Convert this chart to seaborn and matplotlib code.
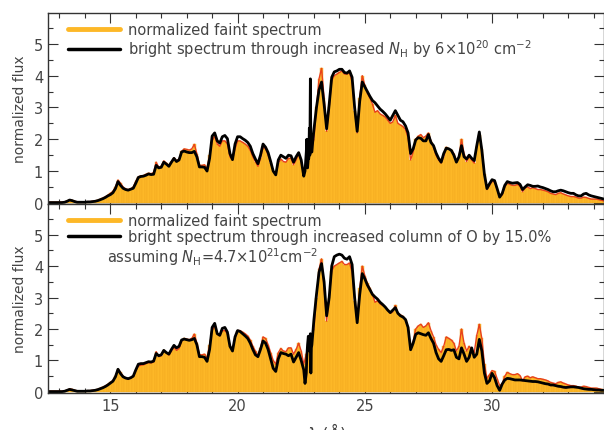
import numpy as np
import pandas as pd
import matplotlib
matplotlib.use("Agg")
import matplotlib.pyplot as plt
from matplotlib.lines import Line2D
from matplotlib.ticker import MultipleLocator
import seaborn as sns

# spectrum grid, 0.1 A bins from 12.6 to 34.4 A
wave = np.round(np.arange(12.6, 34.41, 0.1), 2)

faint = [
    0.02, 0.02, 0.02, 0.02,
    0.02, 0.02, 0.03, 0.06, 0.09, 0.08, 0.05, 0.03, 0.03, 0.03,
    0.03, 0.04, 0.04, 0.05, 0.06, 0.08, 0.11, 0.15, 0.19, 0.24,
    0.30, 0.36, 0.50, 0.72, 0.62, 0.50, 0.44, 0.42, 0.44, 0.50,
    0.68, 0.82, 0.85, 0.86, 0.90, 0.93, 0.92, 0.95, 1.28, 1.12,
    1.15, 1.32, 1.25, 1.17, 1.30, 1.42, 1.32, 1.38, 1.62, 1.70,
    1.68, 1.66, 1.70, 1.84, 1.55, 1.18, 1.18, 1.20, 1.08, 1.50,
    1.95, 2.10, 1.85, 1.78, 1.95, 1.95, 1.85, 1.45, 1.35, 1.70,
    1.95, 1.95, 1.90, 1.85, 1.78, 1.65, 1.45, 1.30, 1.15, 1.40,
    1.75, 1.70, 1.50, 1.25, 1.00, 0.88, 1.25, 1.38, 1.30, 1.28,
    1.40, 1.40, 1.20, 1.35, 1.55, 1.30, 0.88, 1.20, 1.60, 1.70,
    2.00, 3.00, 3.90, 4.23, 3.30, 2.25, 3.00, 3.85, 4.00, 4.05,
    4.10, 4.15, 4.05, 4.05, 4.10, 3.80, 2.90, 2.20, 3.30, 4.00,
    3.70, 3.45, 3.30, 3.10, 2.85, 2.90, 2.80, 2.75, 2.70, 2.60,
    2.50, 2.55, 2.75, 2.50, 2.45, 2.40, 2.30, 2.05, 1.35, 1.60,
    2.00, 2.10, 2.15, 2.05, 2.10, 2.20, 1.95, 1.75, 1.50, 1.35,
    1.25, 1.45, 1.75, 1.70, 1.65, 1.55, 1.30, 1.45, 2.00, 1.55,
    1.30, 1.45, 1.35, 1.25, 1.80, 2.15, 1.70, 0.90, 0.42, 0.55,
    0.68, 0.65, 0.42, 0.20, 0.25, 0.50, 0.62, 0.58, 0.55, 0.55,
    0.58, 0.52, 0.35, 0.48, 0.50, 0.45, 0.48, 0.45, 0.42, 0.42,
    0.40, 0.38, 0.35, 0.30, 0.28, 0.26, 0.30, 0.32, 0.28, 0.25,
    0.22, 0.20, 0.20, 0.18, 0.15, 0.15, 0.18, 0.17, 0.14, 0.12,
    0.12, 0.12, 0.10, 0.08, 0.06,
]

bright_nh = [
    0.01, 0.01, 0.01, 0.01,
    0.01, 0.01, 0.02, 0.05, 0.09, 0.07, 0.04, 0.02, 0.02, 0.02,
    0.02, 0.03, 0.03, 0.04, 0.05, 0.07, 0.10, 0.13, 0.17, 0.22,
    0.26, 0.32, 0.45, 0.67, 0.55, 0.46, 0.42, 0.40, 0.43, 0.46,
    0.62, 0.80, 0.83, 0.84, 0.87, 0.91, 0.89, 0.90, 1.18, 1.10,
    1.12, 1.28, 1.22, 1.15, 1.28, 1.40, 1.30, 1.35, 1.60, 1.63,
    1.60, 1.58, 1.58, 1.62, 1.45, 1.13, 1.13, 1.12, 1.00, 1.40,
    2.10, 2.20, 1.95, 1.88, 2.08, 2.12, 2.02, 1.55, 1.36, 1.85,
    2.08, 2.08, 2.02, 1.97, 1.90, 1.78, 1.55, 1.38, 1.23, 1.50,
    1.85, 1.75, 1.58, 1.30, 1.00, 0.88, 1.35, 1.50, 1.45, 1.40,
    1.50, 1.48, 1.28, 1.45, 1.58, 1.35, 0.84, 1.60, 1.40, 1.60,
    2.30, 3.00, 3.55, 3.80, 3.10, 2.33, 3.10, 3.95, 4.12, 4.15,
    4.20, 4.20, 4.10, 4.08, 4.15, 3.95, 3.00, 2.25, 3.20, 3.80,
    3.65, 3.50, 3.35, 3.22, 3.15, 3.05, 2.95, 2.88, 2.80, 2.70,
    2.60, 2.75, 2.90, 2.75, 2.60, 2.55, 2.42, 2.20, 1.55, 1.70,
    1.98, 2.05, 2.03, 1.95, 1.95, 2.15, 1.90, 1.80, 1.57, 1.40,
    1.28, 1.55, 1.72, 1.70, 1.65, 1.50, 1.28, 1.45, 1.80, 1.45,
    1.38, 1.50, 1.40, 1.33, 1.80, 2.23, 1.65, 0.90, 0.45, 0.60,
    0.73, 0.70, 0.45, 0.18, 0.30, 0.55, 0.67, 0.64, 0.62, 0.63,
    0.64, 0.58, 0.42, 0.50, 0.57, 0.55, 0.52, 0.52, 0.53, 0.50,
    0.48, 0.45, 0.42, 0.38, 0.35, 0.35, 0.38, 0.40, 0.38, 0.35,
    0.32, 0.30, 0.30, 0.25, 0.22, 0.22, 0.28, 0.30, 0.25, 0.22,
    0.20, 0.18, 0.16, 0.14, 0.12,
]

bright_o = [
    0.01, 0.01, 0.01, 0.01,
    0.01, 0.01, 0.02, 0.05, 0.08, 0.06, 0.04, 0.02, 0.02, 0.02,
    0.02, 0.03, 0.03, 0.04, 0.05, 0.07, 0.10, 0.13, 0.17, 0.22,
    0.28, 0.34, 0.48, 0.72, 0.58, 0.48, 0.44, 0.42, 0.45, 0.50,
    0.70, 0.88, 0.90, 0.90, 0.93, 0.96, 0.95, 0.98, 1.22, 1.15,
    1.18, 1.32, 1.25, 1.20, 1.35, 1.48, 1.40, 1.45, 1.65, 1.68,
    1.66, 1.64, 1.66, 1.70, 1.50, 1.12, 1.12, 1.10, 0.97, 1.35,
    2.05, 2.18, 1.85, 1.80, 2.02, 2.05, 1.90, 1.45, 1.30, 1.75,
    1.95, 1.92, 1.85, 1.78, 1.70, 1.55, 1.35, 1.18, 1.12, 1.35,
    1.62, 1.55, 1.35, 1.05, 0.75, 0.65, 1.05, 1.25, 1.22, 1.20,
    1.15, 1.20, 0.95, 1.10, 1.25, 1.00, 0.70, 0.60, 1.50, 1.40,
    2.30, 3.10, 3.80, 4.08, 3.50, 2.42, 3.00, 4.00, 4.30, 4.35,
    4.38, 4.35, 4.25, 4.22, 4.30, 4.05, 3.00, 2.20, 3.10, 3.76,
    3.60, 3.40, 3.25, 3.10, 3.02, 2.95, 2.85, 2.78, 2.70, 2.60,
    2.52, 2.60, 2.68, 2.50, 2.42, 2.38, 2.30, 2.05, 1.34, 1.55,
    1.83, 1.88, 1.85, 1.82, 1.80, 1.88, 1.70, 1.55, 1.25, 1.05,
    0.97, 1.15, 1.34, 1.35, 1.32, 1.34, 1.10, 1.05, 1.40, 1.20,
    0.97, 1.10, 1.40, 1.10, 1.20, 1.67, 1.30, 0.60, 0.27, 0.35,
    0.59, 0.45, 0.20, 0.05, 0.25, 0.38, 0.43, 0.42, 0.40, 0.38,
    0.38, 0.38, 0.37, 0.36, 0.35, 0.34, 0.33, 0.33, 0.32, 0.30,
    0.28, 0.26, 0.25, 0.22, 0.22, 0.20, 0.18, 0.17, 0.15, 0.14,
    0.15, 0.16, 0.16, 0.15, 0.14, 0.12, 0.10, 0.09, 0.08, 0.08,
    0.07, 0.06, 0.06, 0.05, 0.05,
]

# narrow spikes near 22.8 A in the bright spectra
spike_wave = [22.65, 22.72, 22.75, 22.78, 22.82, 22.84, 22.86, 22.88, 22.92, 22.95]
spike_nh = [1.00, 2.00, 1.10, 1.40, 2.35, 1.50, 3.90, 1.70, 1.60, 1.90]
spike_o = [0.27, 1.10, 1.50, 1.77, 1.30, 1.60, 1.85, 0.60, 1.50, 1.80]

ORANGE = "#FDB827"
RED = "#E8401C"
TXT = "#444444"

sns.set_style("ticks")
plt.rcParams["font.family"] = ["DejaVu Sans"]
plt.rcParams["mathtext.fontset"] = "dejavusans"
plt.rcParams["axes.edgecolor"] = "#333333"
plt.rcParams["xtick.color"] = "#333333"
plt.rcParams["ytick.color"] = "#333333"

spec = pd.DataFrame({"wave": wave, "faint": faint})


def bright_frame(values, spikes):
    '''grid spectrum plus the narrow spike points, sorted by wavelength'''
    df = pd.concat([pd.DataFrame({"wave": wave, "flux": values}),
                    pd.DataFrame({"wave": spike_wave, "flux": spikes})])
    return df.sort_values("wave").reset_index(drop=True)


def draw_panel(ax, bright_df):
    sns.histplot(data=spec, x="wave", weights="faint", binwidth=0.1,
                 binrange=(12.55, 34.45), element="bars", fill=True,
                 color=ORANGE, edgecolor="#F2A81E", linewidth=0.3,
                 alpha=1.0, ax=ax)
    sns.lineplot(data=spec, x="wave", y="faint", color=RED, lw=1.0, ax=ax)
    sns.lineplot(data=bright_df, x="wave", y="flux", color="black", lw=2.0,
                 estimator=None, sort=False, ax=ax)
    ax.set_xlim(12.55, 34.4)
    ax.set_ylim(-0.04, 5.97)
    ax.xaxis.set_major_locator(MultipleLocator(5))
    ax.xaxis.set_minor_locator(MultipleLocator(1))
    ax.yaxis.set_major_locator(MultipleLocator(1))
    ax.yaxis.set_minor_locator(MultipleLocator(0.5))
    ax.tick_params(which="both", direction="in", top=True, right=True,
                   labelsize=10.5, labelcolor=TXT)
    ax.tick_params(which="major", length=7, width=0.8)
    ax.tick_params(which="minor", length=3.5, width=0.8)
    ax.set_ylabel("normalized flux", fontsize=10, color=TXT, labelpad=5)
    ax.set_xlabel("")
    for sp in ax.spines.values():
        sp.set_linewidth(1.0)


fig = plt.figure(figsize=(6.04, 4.31), dpi=100)
ax1 = fig.add_axes([0.0795, 0.524, 0.9205, 0.4435])
ax2 = fig.add_axes([0.0795, 0.0855, 0.9205, 0.4385])

draw_panel(ax1, bright_frame(bright_nh, spike_nh))
draw_panel(ax2, bright_frame(bright_o, spike_o))
ax1.tick_params(labelbottom=False)

handles = [Line2D([], [], color=ORANGE, lw=3.5), Line2D([], [], color="black", lw=2.5)]
leg_kw = dict(loc="upper left", frameon=False, fontsize=10.5, handlelength=3.6,
              handletextpad=0.5, labelspacing=0.05, borderaxespad=0.2,
              bbox_to_anchor=(0.02, 1.0), labelcolor=TXT)
ax1.legend(handles, ["normalized faint spectrum",
                     r"bright spectrum through increased $N_{\rm H}$ by 6$\times$10$^{20}$ cm$^{-2}$"],
           **leg_kw)
ax2.legend(handles, ["normalized faint spectrum",
                     "bright spectrum through increased column of O by 15.0%"],
           **leg_kw)
ax2.text(0.106, 0.725, r"assuming $N_{\rm H}$=4.7$\times$10$^{21}$cm$^{-2}$",
         transform=ax2.transAxes, fontsize=10.5, color=TXT, va="center")

ax2.set_xlabel(r"$\lambda$ (Å)", fontsize=12, color=TXT, labelpad=5)

fig.savefig("out.png", dpi=100)
